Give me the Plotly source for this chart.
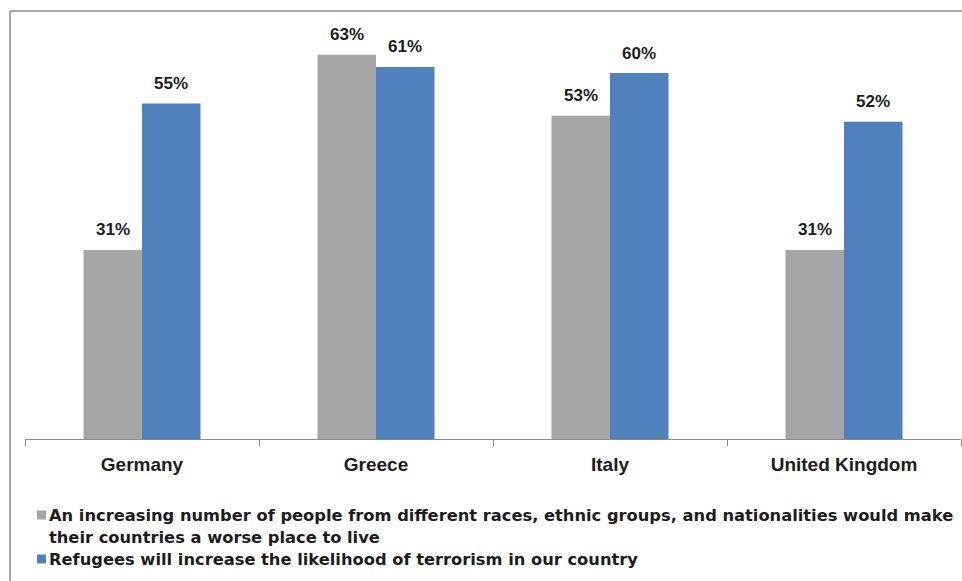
import plotly.graph_objects as go

countries = ["Germany", "Greece", "Italy", "United Kingdom"]
worse_place = [31, 63, 53, 31]
terrorism = [55, 61, 60, 52]
series_names = [
    "An increasing number of people from different races, ethnic groups, and nationalities would make",
    "their countries a worse place to live",
]
series_labels = [
    series_names,
    ["Refugees will increase the likelihood of terrorism in our country"],
]

W, H = 962, 581
ML, MR, MT, MB = 25, 1, 12, 142
PW, PH = W - ML - MR, H - MT - MB

GRAY = "#a5a5a5"
BLUE = "#4f81bd"
COLORS = [GRAY, BLUE]
TEXT = "#1c1c1c"
FONT = "Liberation Sans"
LEGEND_FONT = "DejaVu Sans"

fig = go.Figure()
for lines, vals, col in zip(series_labels, (worse_place, terrorism), COLORS):
    fig.add_trace(go.Bar(x=countries, y=vals, name=" ".join(lines),
                         showlegend=False,
                         marker=dict(color=col, line=dict(width=0))))

# value labels above each bar
bar_px = PW / len(countries) * 0.25
for vals, shift in ((worse_place, -bar_px / 2), (terrorism, bar_px / 2)):
    for c, v in zip(countries, vals):
        fig.add_annotation(x=c, y=v, text=f"<b>{v}%</b>", showarrow=False,
                           xshift=shift, yshift=20, yanchor="middle",
                           font=dict(family=FONT, size=17, color=TEXT))


def px_x(p):
    return (p - ML) / PW


def px_y(p):
    return (MT + PH - p) / PH


# outer frame (left and top edges)
frame = dict(type="line", xref="paper", yref="paper",
             line=dict(color="#8a8a8a", width=1.5))
fig.add_shape(**frame, x0=px_x(10), x1=px_x(10), y0=px_y(11), y1=px_y(H + 2))
fig.add_shape(**frame, x0=px_x(10), x1=px_x(W + 2), y0=px_y(11), y1=px_y(11))

# legend below the axis: square swatch + wrapped label per series
LINE_H = 22
first_line_y = 515
text_x = 48
row = 0
for lines, col in zip(series_labels, COLORS):
    cy = first_line_y + row * LINE_H
    fig.add_shape(type="rect", xref="paper", yref="paper",
                  x0=px_x(text_x - 11), x1=px_x(text_x - 2),
                  y0=px_y(cy - 4.5), y1=px_y(cy + 4.5),
                  fillcolor=col, line=dict(width=0))
    for line in lines:
        fig.add_annotation(xref="paper", yref="paper",
                           x=px_x(text_x), y=px_y(first_line_y + row * LINE_H),
                           xanchor="left", yanchor="middle", align="left",
                           text=f"<b>{line}</b>", showarrow=False, borderpad=0,
                           font=dict(family=LEGEND_FONT, size=16.3, color=TEXT))
        row += 1

fig.update_layout(
    width=W, height=H,
    margin=dict(l=ML, r=MR, t=MT, b=MB),
    paper_bgcolor="white", plot_bgcolor="white",
    barmode="group", bargap=0.5, bargroupgap=0,
    font=dict(family=FONT, color=TEXT),
    showlegend=False,
    xaxis=dict(showline=True, linecolor="#8c8c8c", linewidth=1,
               ticks="outside", tickson="boundaries", ticklen=6,
               tickcolor="#8c8c8c", ticklabelstandoff=8,
               tickfont=dict(family=FONT, size=19, color=TEXT, weight="bold"),
               showgrid=False, zeroline=False),
    yaxis=dict(range=[0, 70], visible=False, showgrid=False, zeroline=False),
)

fig.write_html("out.html")
